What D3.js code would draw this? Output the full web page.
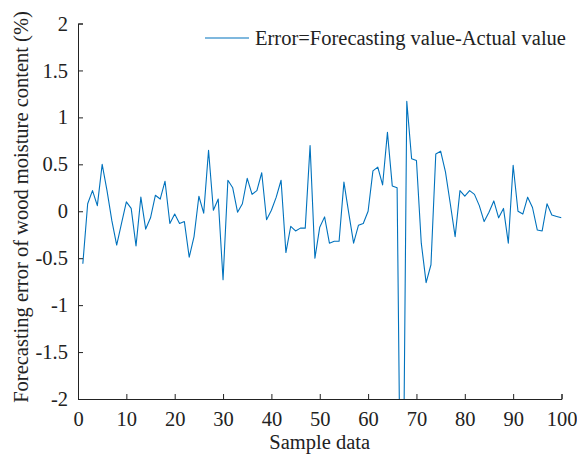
<!DOCTYPE html>
<html><head><meta charset="utf-8">
<script src="https://cdn.jsdelivr.net/npm/d3@7"></script>
<style>body{margin:0;background:#fff}svg{display:block}text{font-family:"Liberation Serif","Times New Roman",serif}</style>
</head><body>
<script>
const sampleIndex = d3.range(1, 101);
const errorValues = [
 -0.56, 0.08, 0.22, 0.06, 0.50, 0.22, -0.10, -0.36, -0.13, 0.10,
 0.03, -0.37, 0.15, -0.19, -0.07, 0.17, 0.13, 0.32, -0.13, -0.03,
 -0.13, -0.11, -0.49, -0.27, 0.16, -0.02, 0.65, 0.01, 0.13, -0.73,
 0.33, 0.25, -0.01, 0.08, 0.35, 0.18, 0.22, 0.41, -0.09, 0.01,
 0.15, 0.33, -0.44, -0.16, -0.21, -0.18, -0.18, 0.70, -0.50, -0.17,
 -0.06, -0.34, -0.32, -0.32, 0.31, -0.02, -0.34, -0.15, -0.13, 0.00,
 0.43, 0.47, 0.28, 0.84, 0.27, 0.25, -4.7, 1.17, 0.56, 0.54,
 -0.34, -0.76, -0.57, 0.61, 0.64, 0.42, 0.08, -0.27, 0.22, 0.16,
 0.22, 0.18, 0.06, -0.11, -0.01, 0.11, -0.07, 0.03, -0.34, 0.49,
 0.00, -0.03, 0.15, 0.04, -0.20, -0.21, 0.08, -0.04, -0.055, -0.07
];
const xTicks = [0,10,20,30,40,50,60,70,80,90,100];
const yTicks = [-2,-1.5,-1,-0.5,0,0.5,1,1.5,2];
const seriesName = "Error=Forecasting value-Actual value";
const xLabel = "Sample data";
const yLabel = "Forecasting error of wood moisture content (%)";

const W = 577, H = 455;
const m = {left: 78, right: 15, top: 23.5, bottom: 56};
const FS = "20.5px";
const svg = d3.select("body").append("svg").attr("width", W).attr("height", H);
const x = d3.scaleLinear().domain([0,100]).range([m.left, W - m.right - 0.5]);
const y = d3.scaleLinear().domain([-2,2]).range([H - m.bottom, m.top]);

svg.append("defs").append("clipPath").attr("id","clip")
  .append("rect").attr("x", x(0)).attr("y", y(2)).attr("width", x(100)-x(0)).attr("height", y(-2)-y(2));

const color = "#0072BD";
svg.append("path")
  .datum(sampleIndex.map((d,i)=>[d, errorValues[i]]))
  .attr("clip-path","url(#clip)")
  .attr("fill","none").attr("stroke", color).attr("stroke-width", 1.1)
  .attr("stroke-linejoin","round")
  .attr("d", d3.line().x(d=>x(d[0])).y(d=>y(d[1])));

const xAxis = svg.append("g").attr("transform", `translate(0,${y(-2)})`)
  .call(d3.axisBottom(x).tickValues(xTicks).tickSize(-5).tickPadding(12).tickFormat(d3.format("d")));
const yAxis = svg.append("g").attr("transform", `translate(${x(0)},0)`)
  .call(d3.axisLeft(y).tickValues(yTicks).tickSize(-5).tickPadding(10).tickFormat(d=>String(d)));
[xAxis, yAxis].forEach(g => {
  g.selectAll("path,line").attr("stroke","#222").attr("stroke-width",1);
  g.selectAll("text").attr("fill","#222").attr("font-size",FS)
    .attr("font-family",'"Liberation Serif","Times New Roman",serif');
});

svg.append("text").attr("x", (x(0)+x(100))/2).attr("y", 449)
  .attr("text-anchor","middle").attr("font-size",FS).attr("fill","#222").text(xLabel);
svg.append("text").attr("transform", `translate(28,207) rotate(-90)`)
  .attr("text-anchor","middle").attr("font-size",FS).attr("fill","#222").text(yLabel);

const lg = svg.append("g");
lg.append("line").attr("x1",205).attr("x2",249).attr("y1",38).attr("y2",38)
  .attr("stroke",color).attr("stroke-width",1.1);
lg.append("text").attr("x",255).attr("y",45).attr("font-size",FS).attr("fill","#222").text(seriesName);
</script>
</body></html>
